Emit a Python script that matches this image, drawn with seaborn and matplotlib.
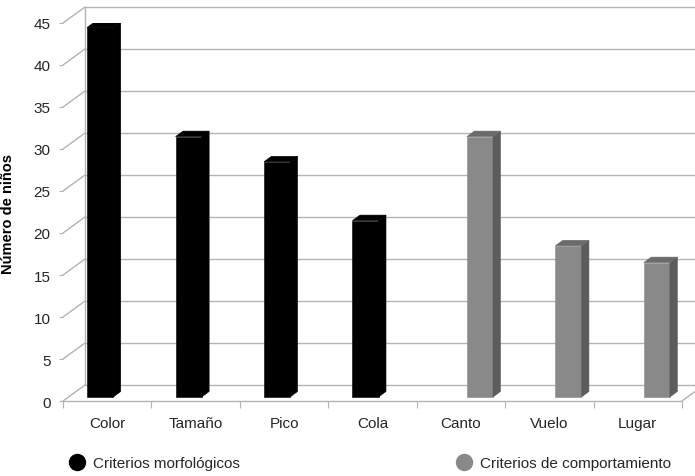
import numpy as np
import pandas as pd
import matplotlib
matplotlib.use('Agg')
import matplotlib.pyplot as plt
import matplotlib.transforms as mtransforms
from matplotlib.patches import Polygon
from matplotlib.lines import Line2D
import seaborn as sns

# datos
categorias = ['Color', 'Tamaño', 'Pico', 'Cola', 'Canto', 'Vuelo', 'Lugar']
criterio = ['Criterios morfológicos'] * 4 + ['Criterios de comportamiento'] * 3
ninos = [44, 31, 28, 21, 31, 18, 16]
series = ['Criterios morfológicos', 'Criterios de comportamiento']
yticks = list(range(0, 50, 5))

# colores (cara frontal, lateral, superior)
colores = ['#000000', '#898989']
lados = ['#000000', '#5c5c5c']
techos = ['#000000', '#6b6b6b']
gris = '#b4b4b4'
texto = '#262626'

df = pd.DataFrame({'categoria': categorias, 'criterio': criterio, 'ninos': ninos})

sns.set_style('white')
plt.rcParams['font.family'] = ['Liberation Sans', 'DejaVu Sans']

W, H = 695, 477
fig = plt.figure(figsize=(W / 100, H / 100), dpi=100)
left, right, bottom, top = 63, 682, 402, 24
ax = fig.add_axes([left / W, 1 - bottom / H, (right - left) / W, (bottom - top) / H])
ax.patch.set_alpha(0)

sns.barplot(data=df, x='categoria', y='ninos', hue='criterio', hue_order=series,
            palette=colores, width=0.59, dodge=True, saturation=1, linewidth=0,
            legend=False, ax=ax, zorder=3)
ax.set_xlim(-0.5, 6.5)
ax.set_ylim(0, 45)

# pixeles por unidad, para el efecto 3D
px_x = (right - left) / 7
px_y = (bottom - top) / 45
shift = ax.transData + mtransforms.ScaledTranslation(6 / 100, 4 / 100, fig.dpi_scale_trans)
dx, dy = 7.5 / px_x, 5.5 / px_y

for cont, frente, lado, techo in zip(ax.containers, colores, lados, techos):
    for bar in cont:
        x0, w, y0, h = bar.get_x(), bar.get_width(), bar.get_y(), bar.get_height()
        if np.isnan(h):
            continue
        bar.set_transform(shift)
        bar.set_edgecolor(frente)
        bar.set_linewidth(0.4)
        side = Polygon([(x0 + w, y0), (x0 + w + dx, y0 + dy), (x0 + w + dx, h + dy), (x0 + w, h)],
                       closed=True, facecolor=lado, edgecolor=lado, lw=0.4, transform=shift, zorder=3)
        tp = Polygon([(x0, h), (x0 + dx, h + dy), (x0 + w + dx, h + dy), (x0 + w, h)],
                     closed=True, facecolor=techo, edgecolor=techo, lw=0.4, transform=shift, zorder=3)
        ax.add_patch(side)
        ax.add_patch(tp)

# paredes y suelo
bx, by = 22 / px_x, 16 / px_y
x0, x1 = ax.get_xlim()
kw = dict(color=gris, lw=1, clip_on=False, zorder=1)
for v in yticks:
    ax.plot([x0 + bx, x1 + bx], [v + by, v + by], **kw)
    ax.plot([x0, x0 + bx], [v, v + by], **kw)
ax.plot([x0 + bx, x0 + bx], [by, 45 + by], **kw)
ax.plot([x0, x1], [0, 0], **kw)
ax.plot([x1, x1 + bx], [0, by], **kw)

for s in ax.spines.values():
    s.set_visible(False)

ax.set_yticks(yticks)
ax.set_xticks(np.arange(-0.5, 7, 1), minor=True)
ax.tick_params(axis='y', left=True, length=3, width=0.8, color=gris, pad=6,
               labelsize=11, labelcolor=texto)
ax.tick_params(axis='x', which='major', bottom=True, length=0, pad=11,
               labelsize=11, labelcolor=texto)
ax.tick_params(axis='x', which='minor', bottom=True, length=5, width=0.8, color=gris)

ax.set_xlabel('')
ax.set_ylabel('Número de niños', fontsize=10.5, fontweight='bold', color='#000000')
ax.yaxis.set_label_coords(-0.077, 0.497)

# leyenda
for nombre, col, xpos in zip(series, colores, [69, 456]):
    h = Line2D([], [], marker='o', linestyle='', color=col, markersize=11.5)
    fig.legend([h], [nombre], loc='center left', bbox_to_anchor=(xpos / W, 1 - 464 / H),
               frameon=False, borderpad=0, borderaxespad=0, handlelength=1.0,
               handletextpad=0.57, fontsize=11, labelcolor=texto)

fig.savefig('out.png', dpi=100)
